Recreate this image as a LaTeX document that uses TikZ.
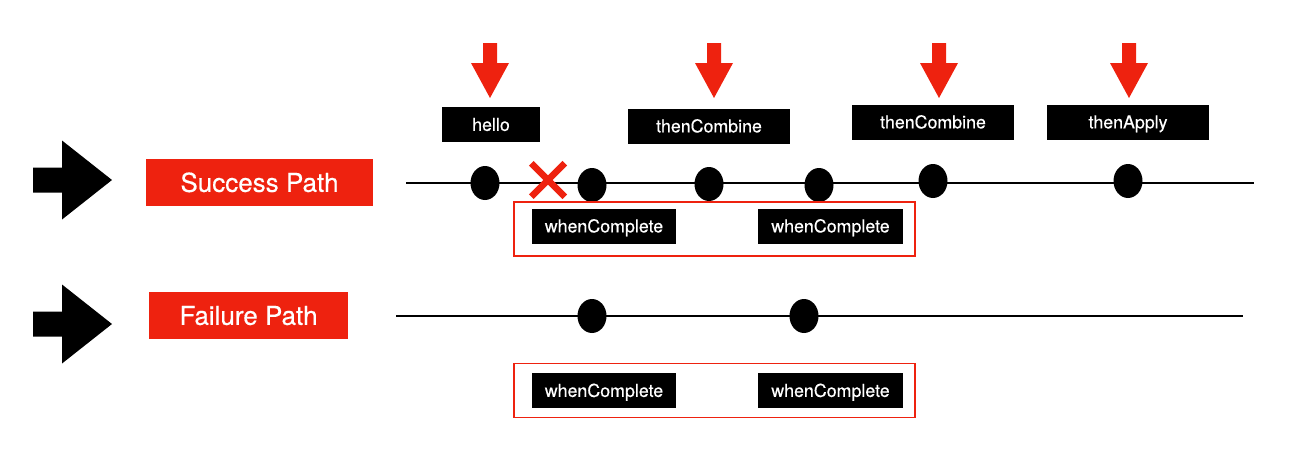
\documentclass[tikz,border=0pt]{standalone}
\usepackage{fontspec}
\setmainfont{TeX Gyre Heros}
\newfontfamily\labelfont[FakeBold=0.4]{TeX Gyre Heros}
\usepackage{tikz}
\usetikzlibrary{shapes.misc, shapes.geometric, positioning}
\definecolor{pathred}{RGB}{238,34,15}

\begin{document}
\begin{tikzpicture}[x=1pt,y=-1pt,
	dot/.style={ellipse,fill=black,inner sep=0pt,minimum width=29pt,minimum height=34pt},
	call/.style={fill=black,text=white,inner sep=0pt,minimum height=35pt,text height=12.8pt,text depth=0pt,font=\labelfont\fontsize{17.8}{19}\selectfont},
	pathlabel/.style={fill=pathred,text=white,inner sep=0pt,minimum height=47pt,text height=18.7pt,text depth=0pt,font=\labelfont\fontsize{26}{28}\selectfont},
	frame/.style={draw=pathred,line width=1.8pt,inner sep=0pt,minimum width=401pt,minimum height=54pt}]
	\useasboundingbox (0,0) rectangle (1297,463);
	% big black arrows on the left
	\foreach \y in {180,324}
		\fill (33,\y-12.5) -- (62,\y-12.5) -- (62,\y-39.5) -- (112,\y) -- (62,\y+39.5) -- (62,\y+12.5) -- (33,\y+12.5) -- cycle;
	\node[pathlabel,minimum width=227pt] at (259.5,182.5) (success) {Success Path};
	\node[pathlabel,minimum width=199pt] at (248.5,315.5) (failure) {Failure Path};
	% time lines
	\coordinate (sstart) at (406,183);
	\coordinate (send) at (1254,183);
	\coordinate (fstart) at (396,316);
	\coordinate (fend) at (1243,316);
	\draw[line width=1.5pt] (sstart)--(send);
	\draw[line width=1.5pt] (fstart)--(fend);
	\node[dot] at (485,183) (s1) {};
	\node[dot] at (592,185) (s2) {};
	\node[dot] at (709,184) (s3) {};
	\node[dot] at (819,185) (s4) {};
	\node[dot] at (933,181) (s5) {};
	\node[dot] at (1128,181) (s6) {};
	\node[dot] at (592,316) (f1) {};
	\node[dot] at (804,316) (f2) {};
	\node[cross out,draw=pathred,line width=6.5pt,inner sep=0pt,minimum size=27pt] at (548,180) (fail) {};
	% red arrows on top
	\foreach \x in {490,714,939,1129}
		\fill[pathred] (\x-7,43) -- (\x+7,43) -- (\x+7,63) -- (\x+19,63) -- (\x,98) -- (\x-19,63) -- (\x-7,63) -- cycle;
	\node[call,minimum width=98pt] at (491,124.5) (hello) {hello};
	\node[call,minimum width=162pt] at (709,126) (combine1) {thenCombine};
	\node[call,minimum width=162pt] at (933,122) (combine2) {thenCombine};
	\node[call,minimum width=162pt] at (1128,122) (apply) {thenApply};
	% whenComplete groups
	\node[frame] at (714.5,229) (sframe) {};
	\node[call,minimum width=144pt] at (604,226) (swc1) {whenComplete};
	\node[call,minimum width=145pt] at (830.5,226) (swc2) {whenComplete};
	\node[frame] at (714.5,390.5) (fframe) {};
	\node[call,minimum width=144pt] at (604,390.5) (fwc1) {whenComplete};
	\node[call,minimum width=145pt] at (830.5,390.5) (fwc2) {whenComplete};
\end{tikzpicture}
\end{document}
